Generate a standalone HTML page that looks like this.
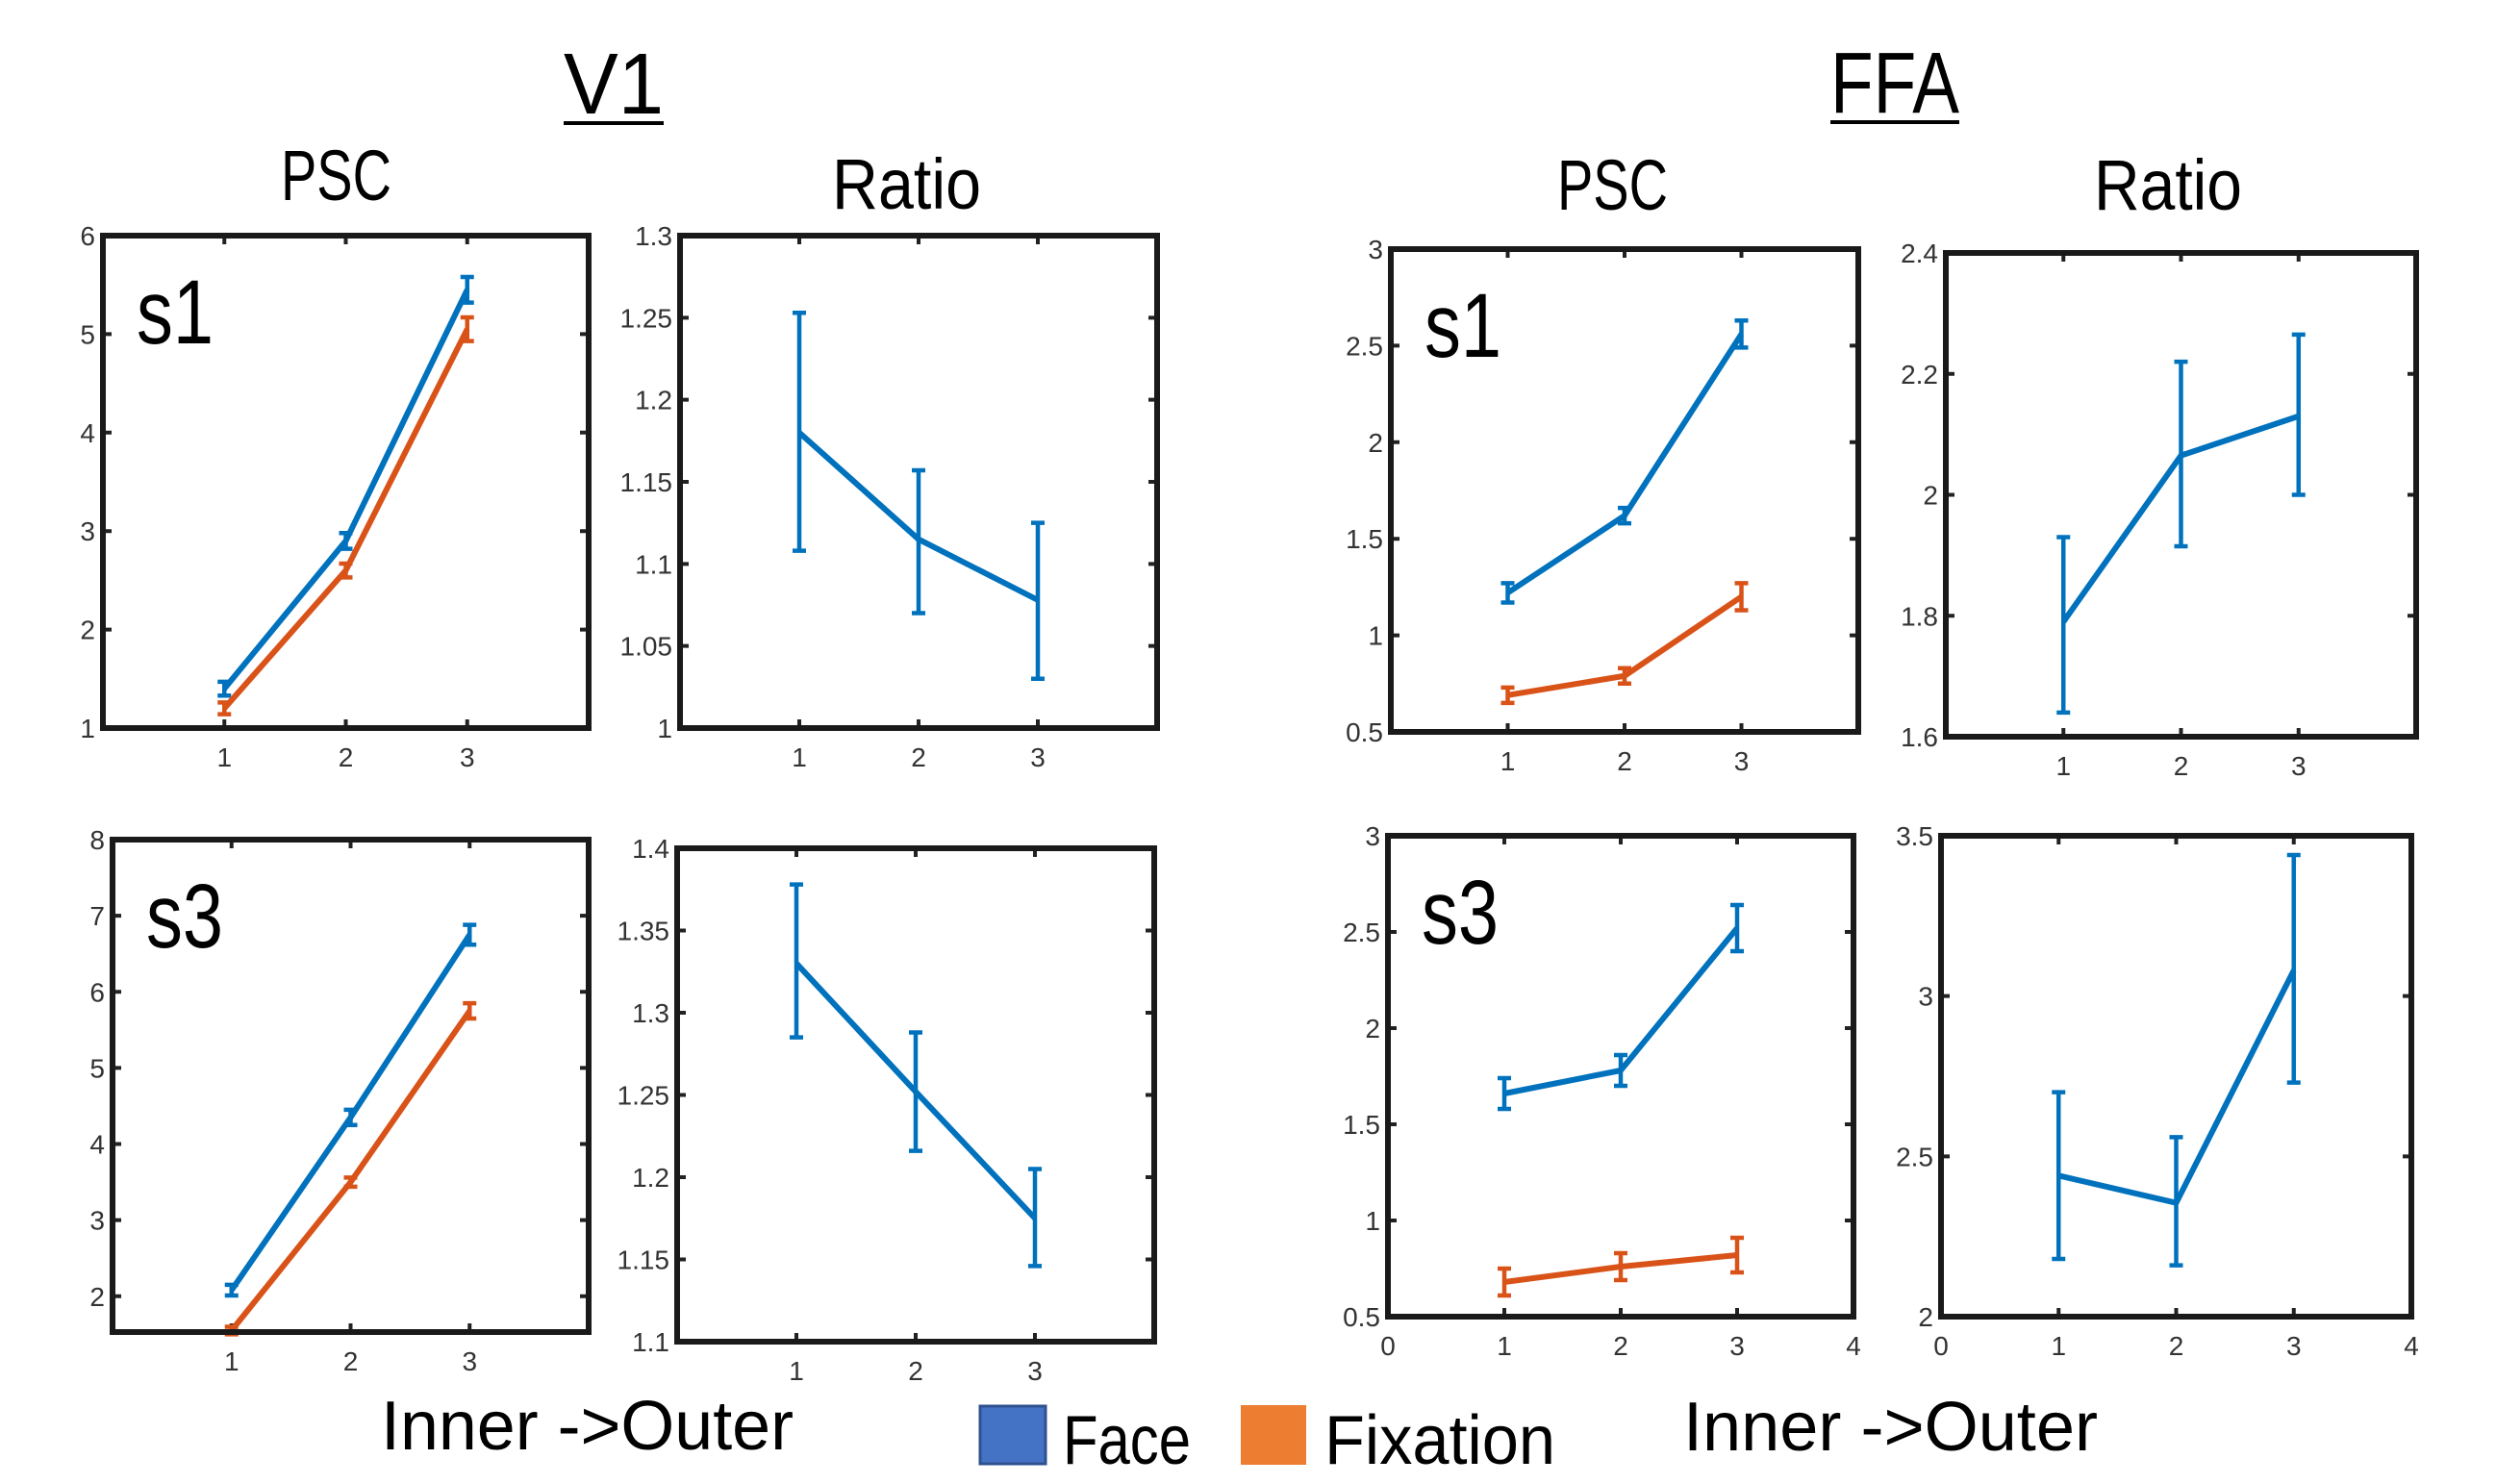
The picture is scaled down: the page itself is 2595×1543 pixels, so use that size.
<!DOCTYPE html>
<html><head><meta charset="utf-8">
<style>
html,body{margin:0;padding:0;background:#fff;}
svg{display:block;}
text{font-family:"Liberation Sans Narrow","Liberation Sans",sans-serif;}
</style></head>
<body>
<svg id="fig" width="2595" height="1543" viewBox="0 0 2595 1543" xmlns="http://www.w3.org/2000/svg">
  <g fill="#000">
    <text x="586" y="118" font-size="90" textLength="104" lengthAdjust="spacingAndGlyphs">V1</text>
    <rect x="586" y="126" width="104" height="4"/>
    <text x="1903" y="117" font-size="90" textLength="134" lengthAdjust="spacingAndGlyphs">FFA</text>
    <rect x="1903" y="125" width="134" height="4"/>
    <text x="292" y="208" font-size="74" textLength="115" lengthAdjust="spacingAndGlyphs">PSC</text>
    <text x="865" y="217" font-size="74" textLength="155" lengthAdjust="spacingAndGlyphs">Ratio</text>
    <text x="1619" y="218" font-size="74" textLength="115" lengthAdjust="spacingAndGlyphs">PSC</text>
    <text x="2177" y="218" font-size="74" textLength="154" lengthAdjust="spacingAndGlyphs">Ratio</text>
  </g>
  <g fill="#000">
    <text x="396" y="1507" font-size="72" textLength="429" lengthAdjust="spacingAndGlyphs">Inner  -&gt;Outer</text>
    <text x="1750" y="1508" font-size="72" textLength="431" lengthAdjust="spacingAndGlyphs">Inner  -&gt;Outer</text>
    <rect x="1019" y="1462" width="68" height="60" fill="#4472c4" stroke="#2f528f" stroke-width="3"/>
    <text x="1105" y="1522" font-size="72" textLength="133" lengthAdjust="spacingAndGlyphs">Face</text>
    <rect x="1290" y="1461" width="68" height="62" fill="#ed7d31"/>
    <text x="1377" y="1522" font-size="72" textLength="240" lengthAdjust="spacingAndGlyphs">Fixation</text>
  </g>
</svg>
<script>
// ---- data ----
const xCats = [1, 2, 3];
// V1 s1 PSC
const v1s1Face = [1.4, 2.9, 5.45];
const v1s1FaceErr = [0.07, 0.08, 0.13];
const v1s1Fix = [1.2, 2.6, 5.05];
const v1s1FixErr = [0.06, 0.07, 0.12];
const v1s1Yticks = [1, 2, 3, 4, 5, 6];
// V1 s1 Ratio
const v1s1Ratio = [1.18, 1.115, 1.078];
const v1s1RatioLo = [1.108, 1.07, 1.03];
const v1s1RatioHi = [1.253, 1.157, 1.125];
const v1s1RatioYticks = ["1", "1.05", "1.1", "1.15", "1.2", "1.25", "1.3"];
// FFA s1 PSC
const ffas1Face = [1.22, 1.62, 2.56];
const ffas1FaceErr = [0.05, 0.04, 0.07];
const ffas1Fix = [0.69, 0.79, 1.2];
const ffas1FixErr = [0.04, 0.04, 0.07];
const ffaPscYticks = ["0.5", "1", "1.5", "2", "2.5", "3"];
// FFA s1 Ratio
const ffas1Ratio = [1.79, 2.065, 2.13];
const ffas1RatioLo = [1.64, 1.915, 2.0];
const ffas1RatioHi = [1.93, 2.22, 2.265];
const ffas1RatioYticks = ["1.6", "1.8", "2", "2.2", "2.4"];
// V1 s3 PSC
const v1s3Face = [2.08, 4.35, 6.75];
const v1s3FaceErr = [0.07, 0.1, 0.13];
const v1s3Fix = [1.55, 3.5, 5.75];
const v1s3FixErr = [0.05, 0.06, 0.1];
const v1s3Yticks = [2, 3, 4, 5, 6, 7, 8];
// V1 s3 Ratio
const v1s3Ratio = [1.33, 1.252, 1.175];
const v1s3RatioLo = [1.285, 1.216, 1.146];
const v1s3RatioHi = [1.378, 1.288, 1.205];
const v1s3RatioYticks = ["1.1", "1.15", "1.2", "1.25", "1.3", "1.35", "1.4"];
// FFA s3 PSC
const ffas3Face = [1.66, 1.78, 2.52];
const ffas3FaceErr = [0.08, 0.08, 0.12];
const ffas3Fix = [0.68, 0.76, 0.82];
const ffas3FixErr = [0.07, 0.07, 0.09];
// FFA s3 Ratio
const ffas3Ratio = [2.44, 2.355, 3.08];
const ffas3RatioLo = [2.18, 2.16, 2.73];
const ffas3RatioHi = [2.7, 2.56, 3.44];
const ffas3RatioYticks = ["2", "2.5", "3", "3.5"];
const xTicksInner = ["1", "2", "3"];
const xTicksFull = ["0", "1", "2", "3", "4"];

const BLUE = "#0072bd", ORANGE = "#d95319";
const NS = "http://www.w3.org/2000/svg";
const svg = document.getElementById("fig");
function mk(tag, attrs, parent) {
  const e = document.createElementNS(NS, tag);
  for (const k in attrs) e.setAttribute(k, attrs[k]);
  parent.appendChild(e);
  return e;
}

function panel(name, box, ymin, ymax, yticks, xticks, series, label) {
  const g = mk("g", {}, svg);
  
  
  const [L, T, R, B] = box;
  const xs = v => L + (v - 0) / 4 * (R - L);
  const ys = v => B - (v - ymin) / (ymax - ymin) * (B - T);
  yticks.forEach(t => {
    const v = parseFloat(t), y = ys(v);
    const tk = mk("path", {d: `M${L} ${y}h9M${R} ${y}h-9`, stroke: "#222", "stroke-width": 4}, g);
    
    
    const tl = mk("text", {x: L - 8, y: y + 10, "font-size": 28, fill: "#333", "text-anchor": "end"}, g);
    
    
    tl.textContent = t;
  });
  xticks.forEach(t => {
    const v = parseFloat(t), x = xs(v);
    const tk = mk("path", {d: `M${x} ${B}v-9M${x} ${T}v9`, stroke: "#222", "stroke-width": 4}, g);
    
    
    const tl = mk("text", {x: x, y: B + 40, "font-size": 28, fill: "#333", "text-anchor": "middle"}, g);
    
    
    tl.textContent = t;
  });
  series.forEach(s => {
    const pts = xCats.map((c, i) => xs(c) + "," + ys(s.vals[i])).join(" ");
    const ln = mk("polyline", {points: pts, fill: "none", stroke: s.color, "stroke-width": 6, "stroke-linejoin": "round"}, g);
    
    
    xCats.forEach((c, i) => {
      const x = xs(c);
      const lo = s.lo ? s.lo[i] : s.vals[i] - s.err[i];
      const hi = s.hi ? s.hi[i] : s.vals[i] + s.err[i];
      const y1 = ys(lo), y2 = ys(hi);
      const eb = mk("path", {d: `M${x} ${y1}V${y2}M${x - 7} ${y1}h14M${x - 7} ${y2}h14`, stroke: s.color, "stroke-width": 4.5, fill: "none"}, g);
      
      
    });
  });
  const fr = mk("rect", {x: L, y: T, width: R - L, height: B - T, fill: "none", stroke: "#1a1a1a", "stroke-width": 6}, g);
  
  
  if (label) {
    const lb = mk("text", {x: L + 35, y: T + 112, "font-size": 95, fill: "#000", textLength: 80, lengthAdjust: "spacingAndGlyphs"}, g);
    
    
    lb.textContent = label;
  }
}

panel("v1-s1-psc", [107, 245, 612, 757], 1, 6, v1s1Yticks.map(String), xTicksInner,
  [{name: "face", color: BLUE, vals: v1s1Face, err: v1s1FaceErr},
   {name: "fixation", color: ORANGE, vals: v1s1Fix, err: v1s1FixErr}], "s1");
panel("v1-s1-ratio", [707, 245, 1203, 757], 1, 1.3, v1s1RatioYticks, xTicksInner,
  [{name: "ratio", color: BLUE, vals: v1s1Ratio, lo: v1s1RatioLo, hi: v1s1RatioHi}], null);
panel("ffa-s1-psc", [1446, 259, 1932, 761], 0.5, 3, ffaPscYticks, xTicksInner,
  [{name: "face", color: BLUE, vals: ffas1Face, err: ffas1FaceErr},
   {name: "fixation", color: ORANGE, vals: ffas1Fix, err: ffas1FixErr}], "s1");
panel("ffa-s1-ratio", [2023, 263, 2512, 766], 1.6, 2.4, ffas1RatioYticks, xTicksInner,
  [{name: "ratio", color: BLUE, vals: ffas1Ratio, lo: ffas1RatioLo, hi: ffas1RatioHi}], null);
panel("v1-s3-psc", [117, 873, 612, 1385], 1.53, 8, v1s3Yticks.map(String), xTicksInner,
  [{name: "face", color: BLUE, vals: v1s3Face, err: v1s3FaceErr},
   {name: "fixation", color: ORANGE, vals: v1s3Fix, err: v1s3FixErr}], "s3");
panel("v1-s3-ratio", [704, 882, 1200, 1395], 1.1, 1.4, v1s3RatioYticks, xTicksInner,
  [{name: "ratio", color: BLUE, vals: v1s3Ratio, lo: v1s3RatioLo, hi: v1s3RatioHi}], null);
panel("ffa-s3-psc", [1443, 869, 1927, 1369], 0.5, 3, ffaPscYticks, xTicksFull,
  [{name: "face", color: BLUE, vals: ffas3Face, err: ffas3FaceErr},
   {name: "fixation", color: ORANGE, vals: ffas3Fix, err: ffas3FixErr}], "s3");
panel("ffa-s3-ratio", [2018, 869, 2507, 1369], 2, 3.5, ffas3RatioYticks, xTicksFull,
  [{name: "ratio", color: BLUE, vals: ffas3Ratio, lo: ffas3RatioLo, hi: ffas3RatioHi}], null);
</script>
</body></html>
